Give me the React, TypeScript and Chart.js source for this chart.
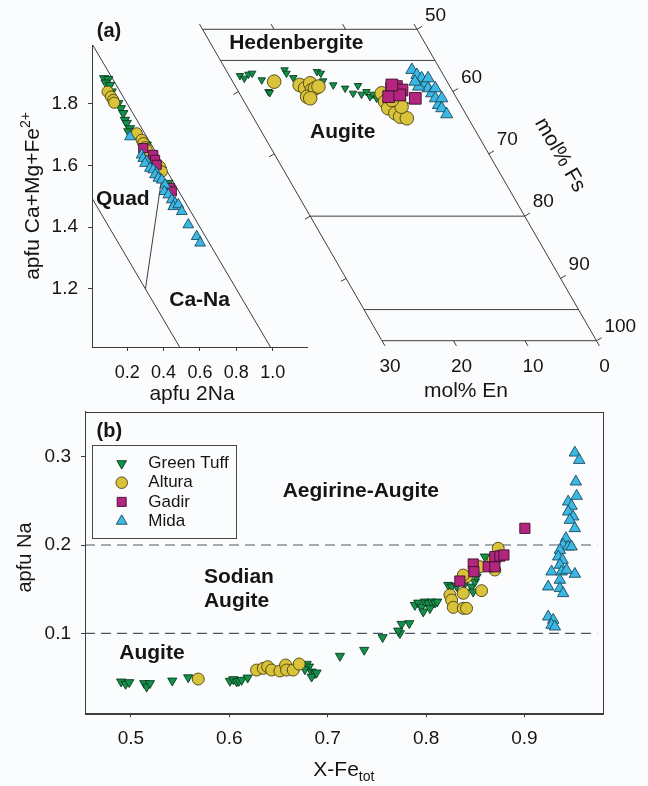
import React, { useEffect, useRef } from 'react';
import { Chart, registerables } from 'chart.js';
import { drawPoint } from 'chart.js/helpers';
Chart.register(...registerables);

const W = 648;
const H = 786;
const FF = '"Liberation Sans", Arial, Helvetica, sans-serif';
const BG = '#fbfcfe';
const INK = '#151515';
const AXIS = '#3d3d3d';

// ---------- series styles ----------
const SERIES = ['Green Tuff', 'Altura', 'Gadir', 'Mida'];
const STYLE: Record<string, any> = {
  'Green Tuff': { bg: '#13914a', border: '#0a3a1e', shape: 'triangle', rot: 180, order: 4 },
  Altura: { bg: '#d8c33a', border: '#4a3f12', shape: 'circle', rot: 0, order: 3 },
  Gadir: { bg: '#b3267f', border: '#3b0f2b', shape: 'rect', rot: 0, order: 2 },
  Mida: { bg: '#3bb9e4', border: '#1b4a5f', shape: 'triangle', rot: 0, order: 1 },
};

// ---------- panel (b): X-Fe_tot vs apfu Na ----------
const B_X_RANGE = [0.4533, 0.9795];
const B_Y_RANGE = [0.0094, 0.351];
const B_X_TICKS = [0.5, 0.6, 0.7, 0.8, 0.9];
const B_Y_TICKS = [0.1, 0.2, 0.3];
const B_BOUNDARY_Y = [0.1, 0.2];
const B_BOUNDARY_X = [0.4533, 0.974];

const bGreenTuff = [
  [0.490, 0.0452], [0.4946, 0.0426], [0.4983, 0.0445], [0.5135, 0.0434], [0.516, 0.0395], [0.5193, 0.0434],
  [0.542, 0.0463], [0.5582, 0.050], [0.6006, 0.046], [0.604, 0.0479], [0.6074, 0.0452], [0.6097, 0.046],
  [0.6125, 0.0471], [0.6186, 0.0497], [0.6786, 0.0652], [0.6809, 0.0622], [0.6768, 0.0592], [0.6836, 0.0565],
  [0.687, 0.0547], [0.6836, 0.0508], [0.6887, 0.0554], [0.7124, 0.0743], [0.7371, 0.0811], [0.7558, 0.0955],
  [0.7734, 0.100], [0.7751, 0.1105], [0.7829, 0.1113], [0.7717, 0.1029], [0.7886, 0.132], [0.792, 0.1346],
  [0.7954, 0.1301], [0.7988, 0.1358], [0.8022, 0.134], [0.8056, 0.1358], [0.809, 0.1346], [0.8113, 0.1358],
  [0.7971, 0.1245], [0.8039, 0.1283], [0.8225, 0.1547], [0.8259, 0.1528], [0.831, 0.1536], [0.8394, 0.1566],
  [0.8462, 0.1528], [0.8478, 0.1471], [0.8496, 0.1585], [0.836, 0.1453], [0.8513, 0.1641], [0.8598, 0.1868],
];
const bAltura = [
  [0.5684, 0.0482], [0.6277, 0.0584], [0.6345, 0.0603], [0.639, 0.0622], [0.643, 0.0584], [0.6514, 0.0573],
  [0.6572, 0.0641], [0.6582, 0.0584], [0.6649, 0.0584], [0.671, 0.0652], [0.8242, 0.1434], [0.8259, 0.1377],
  [0.8276, 0.1294], [0.8378, 0.1283], [0.8411, 0.1283], [0.8378, 0.1453], [0.8564, 0.1483], [0.8411, 0.1641],
  [0.8547, 0.1754], [0.8699, 0.1717], [0.8733, 0.1963], [0.8733, 0.1868], [0.8682, 0.183], [0.8378, 0.166],
];
const bGadir = [
  [0.8343, 0.1592], [0.8479, 0.1785], [0.8486, 0.1698], [0.8631, 0.1754], [0.8699, 0.1754],
  [0.8699, 0.1868], [0.875, 0.1875], [0.8791, 0.1887], [0.9004, 0.2189],
];
const bMida = [
  [0.9512, 0.3045], [0.9556, 0.2962], [0.9522, 0.2717], [0.953, 0.2555], [0.9444, 0.249], [0.9479, 0.2442],
  [0.9444, 0.2377], [0.9495, 0.2321], [0.9461, 0.2283], [0.9512, 0.2189], [0.9421, 0.2076], [0.9393, 0.200],
  [0.9444, 0.1981], [0.936, 0.1943], [0.9479, 0.1981], [0.9343, 0.1868], [0.9387, 0.183], [0.936, 0.1774],
  [0.9275, 0.1698], [0.9377, 0.1698], [0.9428, 0.1717], [0.9512, 0.1672], [0.936, 0.1604], [0.9241, 0.1528],
  [0.936, 0.151], [0.9393, 0.1453], [0.9241, 0.1188], [0.9292, 0.1151], [0.9275, 0.1094], [0.9309, 0.1075],
];

// ---------- panel (a) left: apfu 2Na vs Ca+Mg+Fe2+ ----------
const A_X_RANGE = [0.006, 1.189];
const A_Y_RANGE = [1.012, 1.99];
const A_X_TICKS = [0.2, 0.4, 0.6, 0.8, 1.0];
const A_Y_TICKS = [1.2, 1.4, 1.6, 1.8];
const A_LINE_UPPER = [[0, 2], [1, 1]];
const A_LINE_LOWER = [[0, 1.5], [0.5, 1.0]];
const A_LINE_SPLIT = [[0.3, 1.2], [0.4, 1.6]];

const aGreenTuff = [
  [0.073, 1.882], [0.095, 1.879], [0.081, 1.868], [0.105, 1.860], [0.114, 1.839], [0.150, 1.801],
  [0.165, 1.785], [0.178, 1.769], [0.187, 1.747], [0.197, 1.737], [0.215, 1.720], [0.206, 1.710],
  [0.307, 1.667], [0.343, 1.629], [0.390, 1.586], [0.426, 1.543],
];
const aAltura = [
  [0.092, 1.839], [0.110, 1.823], [0.123, 1.812], [0.128, 1.803], [0.252, 1.704], [0.279, 1.683],
  [0.288, 1.672], [0.298, 1.659], [0.307, 1.650], [0.380, 1.596], [0.390, 1.580],
];
const aGadir = [
  [0.288, 1.656], [0.343, 1.634], [0.353, 1.618], [0.362, 1.602], [0.435, 1.527], [0.445, 1.516],
];
const aMida = [
  [0.215, 1.693], [0.279, 1.634], [0.288, 1.623], [0.307, 1.613], [0.298, 1.607], [0.325, 1.591],
  [0.343, 1.586], [0.362, 1.575], [0.353, 1.570], [0.371, 1.559], [0.390, 1.553], [0.408, 1.537],
  [0.404, 1.516], [0.426, 1.505], [0.445, 1.489], [0.463, 1.478], [0.453, 1.467], [0.481, 1.473],
  [0.500, 1.451], [0.536, 1.408], [0.582, 1.370], [0.601, 1.349],
];

// ---------- panel (a) right: pyroxene quadrilateral (mol% En, mol% Fs) ----------
const Q_EN_TICKS = [30, 20, 10, 0];
const Q_FS_TICKS = [50, 60, 70, 80, 90, 100];
const Q_EN_EDGES = [30, 0];
const Q_FS_EDGES = [50, 100];
const Q_FS_DIVIDERS = [55, 80, 95];
const Q_SHEAR = 0.502;
const Q_U_RANGE = [-32, 28];
const Q_FS_RANGE = [47, 103];

const qGreenTuff = [
  [28.5, 57.45], [28.1, 57.87], [27.2, 57.23], [26.6, 57.07], [25.8, 58.14], [25.8, 60.02], [25.7, 60.18],
  [21.8, 56.53], [21.8, 57.07], [21.2, 57.77], [17.4, 56.8], [17.0, 57.07], [17.3, 58.3], [16.2, 58.94],
  [14.8, 59.47], [14.1, 60.28], [12.8, 59.05], [13.0, 60.44], [12.1, 60.02], [12.0, 60.82], [11.4, 60.44],
  [11.2, 61.08], [9.9, 60.28], [7.9, 61.6], [7.8, 62.15],
];
const qAltura = [
  [24.2, 58.41], [20.9, 58.94], [20.4, 59.47], [19.3, 58.67], [19.6, 59.75], [20.8, 60.82], [19.0, 59.47],
  [18.4, 59.2], [20.5, 61.08], [10.1, 60.28], [10.3, 61.62], [10.4, 62.68], [9.8, 63.49], [9.4, 64.03],
  [8.6, 64.29], [8.4, 62.43], [9.2, 61.35],
];
const qGadir = [
  [8.3, 59.47], [7.5, 59.2], [7.0, 59.75], [9.4, 60.82], [7.7, 60.55], [5.8, 61.08], [8.0, 58.94],
];
const qMida = [
  [4.0, 56.53], [3.7, 57.34], [3.3, 57.87], [3.2, 58.67], [3.2, 59.47], [3.1, 60.28], [3.0, 61.08],
  [3.1, 62.15], [2.9, 62.68], [2.7, 63.65], [4.4, 59.2], [2.4, 57.87], [2.2, 59.47], [4.5, 58.41], [2.1, 61.08],
];

// ---------- layout (pixel boxes of the plot areas) ----------
const BOX_B = { left: 85, top: 411.7, right: 602.7, bottom: 713.3 };
const BOX_A = { left: 92, top: 45, right: 307, bottom: 347 };
const BOX_Q = { left: 188.2, top: 10.6, right: 617.2, bottom: 359.4 };

// ---------- helpers ----------
const font = (size: number, bold = false) => `${bold ? 'bold ' : ''}${size}px ${FF}`;

function drawText(ctx: CanvasRenderingContext2D, s: string, x: number, y: number, size: number, bold = false, align: CanvasTextAlign = 'left', rot = 0) {
  ctx.save();
  ctx.translate(x, y);
  ctx.rotate(rot);
  ctx.font = font(size, bold);
  ctx.textAlign = align;
  ctx.textBaseline = 'middle';
  ctx.fillStyle = INK;
  ctx.fillText(s, 0, 0);
  ctx.restore();
}

// rich text centred at (cx, cy): parts with own size and vertical shift
function drawRich(ctx: CanvasRenderingContext2D, parts: { t: string; size: number; dy: number }[], cx: number, cy: number, rot = 0) {
  ctx.save();
  ctx.translate(cx, cy);
  ctx.rotate(rot);
  ctx.fillStyle = INK;
  ctx.textBaseline = 'alphabetic';
  ctx.textAlign = 'left';
  let total = 0;
  const ws = parts.map((p) => {
    ctx.font = font(p.size);
    const w = ctx.measureText(p.t).width;
    total += w;
    return w;
  });
  const base = parts[0].size * 0.36;
  let x = -total / 2;
  parts.forEach((p, i) => {
    ctx.font = font(p.size);
    ctx.fillText(p.t, x, base + p.dy);
    x += ws[i];
  });
  ctx.restore();
}

function markerSet(name: string, pts: number[][], radius: number, map?: (p: number[]) => { x: number; y: number }) {
  const st = STYLE[name];
  return {
    label: name,
    data: pts.map((p) => (map ? map(p) : { x: p[0], y: p[1] })),
    showLine: false,
    pointStyle: st.shape,
    rotation: st.rot,
    pointRotation: st.rot,
    pointRadius: radius,
    pointHoverRadius: radius,
    backgroundColor: st.bg,
    borderColor: st.border,
    pointBackgroundColor: st.bg,
    pointBorderColor: st.border,
    pointBorderWidth: 0.9,
    borderWidth: 0.9,
    order: st.order,
    clip: false,
  };
}

function lineSet(pts: { x: number; y: number }[], width = 1, dash: number[] = [], color = AXIS) {
  return {
    data: pts,
    showLine: true,
    pointRadius: 0,
    pointHoverRadius: 0,
    borderColor: color,
    backgroundColor: color,
    borderWidth: width,
    borderDash: dash,
    fill: false,
    tension: 0,
    order: 10,
    clip: 0,
  };
}

function axisCommon(tickVals: number[], size: number, pad: number) {
  return {
    type: 'linear' as const,
    afterBuildTicks: (s: any) => {
      s.ticks = tickVals.map((v) => ({ value: v }));
    },
    grid: { display: true, drawOnChartArea: false, drawTicks: true, tickLength: 4, color: AXIS, lineWidth: 1 },
    border: { display: true, color: AXIS, width: 1 },
    ticks: { color: INK, font: { family: FF, size }, padding: pad, callback: (v: any) => Number(v).toFixed(1) },
  };
}

const baseOptions = {
  animation: false as const,
  responsive: false,
  maintainAspectRatio: false,
  devicePixelRatio: 1,
  events: [] as any[],
  plugins: { legend: { display: false }, tooltip: { enabled: false } },
};

// ---------- chart configs ----------
function configA(): any {
  const lp = (pts: number[][]) => pts.map(([x, y]) => ({ x, y }));
  return {
    type: 'scatter',
    data: {
      datasets: [
        markerSet('Mida', aMida, 6.2),
        markerSet('Gadir', aGadir, 6.5),
        markerSet('Altura', aAltura, 5.6),
        markerSet('Green Tuff', aGreenTuff, 5.4),
        lineSet(lp(A_LINE_UPPER)),
        lineSet(lp(A_LINE_LOWER)),
        lineSet(lp(A_LINE_SPLIT)),
      ],
    },
    options: {
      ...baseOptions,
      layout: { padding: { left: 0, top: BOX_A.top, right: W - BOX_A.right, bottom: 0 } },
      scales: {
        x: {
          ...axisCommon(A_X_TICKS, 18, 11),
          min: A_X_RANGE[0],
          max: A_X_RANGE[1],
          afterFit: (s: any) => { s.height = H - BOX_A.bottom; },
        },
        y: {
          ...axisCommon(A_Y_TICKS, 19, 10),
          min: A_Y_RANGE[0],
          max: A_Y_RANGE[1],
          afterFit: (s: any) => { s.width = BOX_A.left; },
        },
      },
    },
    plugins: [
      {
        id: 'decoA',
        afterDraw(chart: any) {
          const ctx = chart.ctx;
          const xs = chart.scales.x;
          const ys = chart.scales.y;
          const P = (x: number, y: number) => [xs.getPixelForValue(x), ys.getPixelForValue(y)];
          let p = P(0.032, 2.033);
          drawText(ctx, '(a)', p[0], p[1], 20, true);
          p = P(0.028, 1.49);
          drawText(ctx, 'Quad', p[0], p[1], 21, true);
          p = P(0.431, 1.164);
          drawText(ctx, 'Ca-Na', p[0], p[1], 21, true);
          const ca = chart.chartArea;
          drawRich(ctx, [
            { t: 'apfu Ca+Mg+Fe', size: 21, dy: 0 },
            { t: '2+', size: 14, dy: -9 },
          ], 31, (ca.top + ca.bottom) / 2, -Math.PI / 2);
          drawText(ctx, 'apfu 2Na', 192, 394, 21, false, 'center');
        },
      },
    ],
  };
}

function configQ(): any {
  const toU = (en: number, fs: number) => -en + Q_SHEAR * (fs - 50);
  const map = (p: number[]) => ({ x: toU(p[0], p[1]), y: p[1] });
  const frame: any[] = [];
  Q_FS_EDGES.concat(Q_FS_DIVIDERS).forEach((fs) => {
    frame.push(lineSet([map([Q_EN_EDGES[0], fs]), map([Q_EN_EDGES[1], fs])]));
  });
  Q_EN_EDGES.forEach((en) => {
    frame.push(lineSet([map([en, Q_FS_EDGES[0]]), map([en, Q_FS_EDGES[1]])]));
  });
  return {
    type: 'scatter',
    data: {
      datasets: [
        markerSet('Mida', qMida, 7, map),
        markerSet('Gadir', qGadir, 8.3, map),
        markerSet('Altura', qAltura, 6.8, map),
        markerSet('Green Tuff', qGreenTuff, 4.3, map),
        ...frame,
      ],
    },
    options: {
      ...baseOptions,
      layout: { padding: { left: BOX_Q.left, top: BOX_Q.top, right: W - BOX_Q.right, bottom: H - BOX_Q.bottom } },
      scales: {
        x: { type: 'linear', display: false, min: Q_U_RANGE[0], max: Q_U_RANGE[1] },
        y: { type: 'linear', display: false, min: Q_FS_RANGE[0], max: Q_FS_RANGE[1], reverse: true },
      },
    },
    plugins: [
      {
        id: 'decoQ',
        afterDraw(chart: any) {
          const ctx = chart.ctx;
          const xs = chart.scales.x;
          const ys = chart.scales.y;
          const pt = (en: number, fs: number) => ({ x: xs.getPixelForValue(toU(en, fs)), y: ys.getPixelForValue(fs) });
          const a = pt(30, 50);
          const b = pt(30, 100);
          const len = Math.hypot(b.x - a.x, b.y - a.y);
          const d = { x: (b.x - a.x) / len, y: (b.y - a.y) / len };
          const n = { x: d.y, y: -d.x };
          const TL = 6;
          ctx.save();
          ctx.strokeStyle = AXIS;
          ctx.lineWidth = 1;
          const seg = (p: any, v: any, l: number) => {
            ctx.beginPath();
            ctx.moveTo(p.x, p.y);
            ctx.lineTo(p.x + v.x * l, p.y + v.y * l);
            ctx.stroke();
          };
          Q_EN_TICKS.forEach((en) => {
            const t = pt(en, 50);
            seg(t, d, -TL);
            const bt = pt(en, 100);
            seg(bt, d, TL);
            drawText(ctx, String(en), bt.x + 8, bt.y + 26, 19, false, 'center');
          });
          Q_FS_TICKS.forEach((fs) => {
            const r = pt(0, fs);
            seg(r, n, TL);
            drawText(ctx, String(fs), r.x + 8, r.y - 14, 19, false, 'left');
            if (fs > 50 && fs < 100) {
              const l = pt(30, fs);
              seg(l, n, -TL);
            }
          });
          ctx.restore();
          let p = pt(27.4, 52.25);
          drawText(ctx, 'Hedenbergite', p.x, p.y, 21, true);
          p = pt(23.3, 66.6);
          drawText(ctx, 'Augite', p.x, p.y, 21, true);
          drawText(ctx, 'mol% En', 466, 391, 21, false, 'center');
          drawText(ctx, 'mol% Fs', 560, 155, 21, false, 'center', Math.atan2(d.y, d.x));
        },
      },
    ],
  };
}

function configB(): any {
  const bound = (y: number) => B_BOUNDARY_X.map((x) => ({ x, y }));
  return {
    type: 'scatter',
    data: {
      datasets: [
        markerSet('Mida', bMida, 6.6),
        markerSet('Gadir', bGadir, 7.2),
        markerSet('Altura', bAltura, 6),
        markerSet('Green Tuff', bGreenTuff, 5.3),
        ...B_BOUNDARY_Y.map((y) => lineSet(bound(y), 1.2, [10, 6], '#4b5a5e')),
      ],
    },
    options: {
      ...baseOptions,
      layout: { padding: { left: 0, top: BOX_B.top, right: W - BOX_B.right, bottom: 0 } },
      scales: {
        x: {
          ...axisCommon(B_X_TICKS, 19, 10),
          min: B_X_RANGE[0],
          max: B_X_RANGE[1],
          afterFit: (s: any) => { s.height = H - BOX_B.bottom; },
        },
        y: {
          ...axisCommon(B_Y_TICKS, 19, 10),
          min: B_Y_RANGE[0],
          max: B_Y_RANGE[1],
          afterFit: (s: any) => { s.width = BOX_B.left; },
        },
      },
    },
    plugins: [
      {
        id: 'decoB',
        afterDraw(chart: any) {
          const ctx = chart.ctx;
          const xs = chart.scales.x;
          const ys = chart.scales.y;
          const ca = chart.chartArea;
          const P = (x: number, y: number) => [xs.getPixelForValue(x), ys.getPixelForValue(y)];
          ctx.save();
          ctx.strokeStyle = AXIS;
          ctx.lineWidth = 1;
          ctx.strokeRect(Math.round(ca.left) + 0.5, Math.round(ca.top) + 0.5, Math.round(ca.right - ca.left), Math.round(ca.bottom - ca.top));
          ctx.restore();
          let p = P(0.4651, 0.3283);
          drawText(ctx, '(b)', p[0], p[1], 20, true);
          p = P(0.6542, 0.2604);
          drawText(ctx, 'Aegirine-Augite', p[0], p[1], 21, true);
          p = P(0.5742, 0.1641);
          drawText(ctx, 'Sodian', p[0], p[1], 21, true);
          p = P(0.5742, 0.1358);
          drawText(ctx, 'Augite', p[0], p[1], 21, true);
          p = P(0.4881, 0.0774);
          drawText(ctx, 'Augite', p[0], p[1], 21, true);

          // legend
          const lx = ca.left + 7.3;
          const ly = ca.top + 33.3;
          ctx.save();
          ctx.strokeStyle = '#474747';
          ctx.lineWidth = 1;
          ctx.strokeRect(Math.round(lx) + 0.5, Math.round(ly) + 0.5, 144, 93);
          const radii: Record<string, number> = { 'Green Tuff': 5.6, Altura: 5.8, Gadir: 6.4, Mida: 6.3 };
          SERIES.forEach((name, i) => {
            const st = STYLE[name];
            const y = ly + 18.5 + i * 19.2;
            ctx.fillStyle = st.bg;
            ctx.strokeStyle = st.border;
            ctx.lineWidth = 0.9;
            drawPoint(ctx, { pointStyle: st.shape, rotation: st.rot, radius: radii[name], borderWidth: 0.9 } as any, lx + 29.4, y);
            drawText(ctx, name, lx + 56, y, 17, false, 'left');
          });
          ctx.restore();

          drawText(ctx, 'apfu Na', 25, (ca.top + ca.bottom) / 2 - 5, 20, false, 'center', -Math.PI / 2);
          drawRich(ctx, [
            { t: 'X-Fe', size: 21, dy: 0 },
            { t: 'tot', size: 14, dy: 5 },
          ], (ca.left + ca.right) / 2, 768);
        },
      },
    ],
  };
}

export default function App() {
  const refA = useRef<HTMLCanvasElement | null>(null);
  const refQ = useRef<HTMLCanvasElement | null>(null);
  const refB = useRef<HTMLCanvasElement | null>(null);

  useEffect(() => {
    const charts = [
      new Chart(refA.current as HTMLCanvasElement, configA()),
      new Chart(refQ.current as HTMLCanvasElement, configQ()),
      new Chart(refB.current as HTMLCanvasElement, configB()),
    ];
    return () => charts.forEach((c) => c.destroy());
  }, []);

  const cs: React.CSSProperties = { position: 'absolute', left: 0, top: 0, width: W, height: H };
  return (
    <div style={{ position: 'absolute', left: 0, top: 0, width: W, height: H, background: BG, overflow: 'hidden' }}>
      <canvas ref={refA} width={W} height={H} style={cs} />
      <canvas ref={refQ} width={W} height={H} style={cs} />
      <canvas ref={refB} width={W} height={H} style={cs} />
    </div>
  );
}
